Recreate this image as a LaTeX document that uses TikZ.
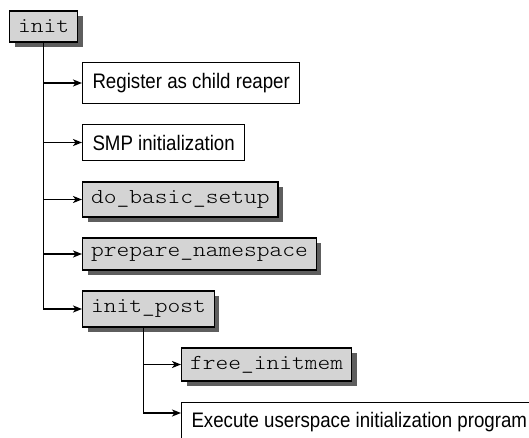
\documentclass[tikz,border=0pt]{standalone}
\usepackage{fontspec}
\setmainfont{Liberation Sans}[FakeStretch=0.89]
\setmonofont{lmmonolt10-regular.otf}[FakeStretch=1.14]
\usetikzlibrary{arrows.meta,shadows}
\definecolor{boxgray}{HTML}{D4D4D4}
\definecolor{shadowgray}{HTML}{5E5E5E}
\tikzset{
  codebox/.style={draw, line width=1.2pt, fill=boxgray, anchor=west,
    font=\ttfamily\fontsize{21.3}{24}\selectfont, inner xsep=8.5pt, minimum height=34pt,
    drop shadow={shadow xshift=5pt, shadow yshift=-5pt, fill=shadowgray, opacity=1}},
  textbox/.style={draw, line width=1pt, fill=white, anchor=west,
    font=\fontsize{21}{24}\selectfont, inner xsep=10pt, minimum height=38pt},
  link/.style={line width=1.5pt, -{Stealth[length=9pt,width=7pt,inset=2.5pt]}}
}
\begin{document}
\begin{tikzpicture}[x=1pt,y=-1pt]
  \useasboundingbox (0,0) rectangle (529,438);
  \node[codebox, minimum height=31pt] (init) at (9,26.5) {init};
  \node[textbox, minimum height=41pt] (reaper) at (82,83) {Register as child reaper};
  \node[textbox, minimum height=36pt] (smp) at (82,142.5) {SMP initialization};
  \node[codebox, minimum height=35pt] (basic) at (82,199.5) {do\_basic\_setup};
  \node[codebox, minimum height=32pt] (namespace) at (82,254) {prepare\_namespace};
  \node[codebox, minimum height=36pt] (post) at (82,309) {init\_post};
  \node[codebox, minimum height=33pt] (freemem) at (181,364.5) {free\_initmem};
  \node[textbox, minimum height=40pt] (exec) at (181,422) {Execute userspace initialization program};
  % first level
  \draw[link] (init.south) |- (reaper.west);
  \draw[link] (init.south) |- (smp.west);
  \draw[link] (init.south) |- (basic.west);
  \draw[link] (init.south) |- (namespace.west);
  \draw[link] (init.south) |- (post.west);
  % second level
  \coordinate (fork) at ([xshift=-5pt]post.south);
  \draw[link] (fork) |- (freemem.west);
  \draw[link] (fork) |- ([yshift=9pt]exec.west);
\end{tikzpicture}
\end{document}
